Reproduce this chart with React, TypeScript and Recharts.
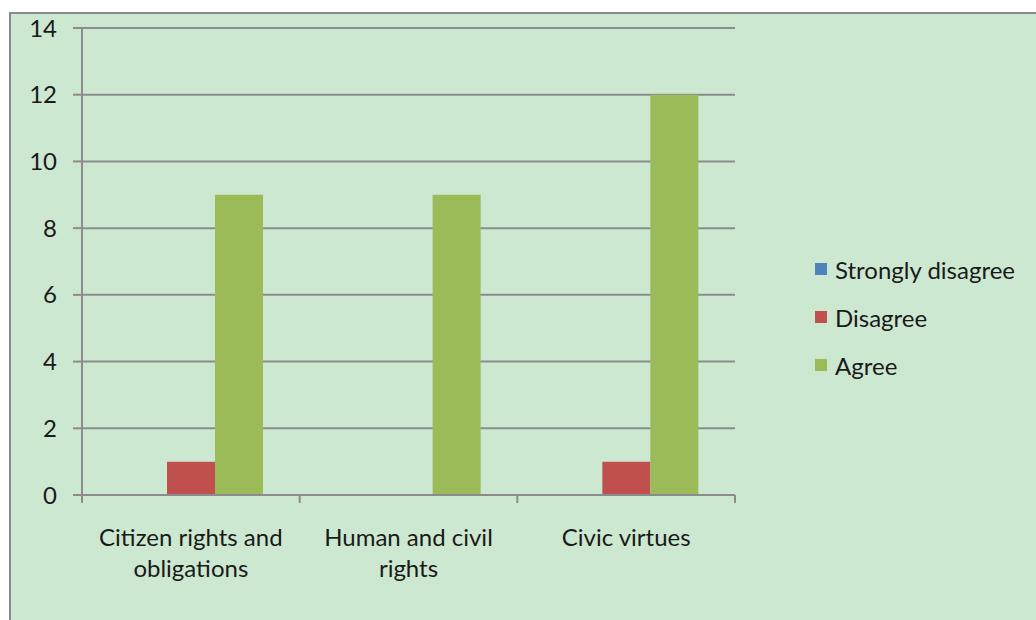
import { BarChart, Bar, XAxis, YAxis, CartesianGrid } from 'recharts'

const categories = [
  ['Citizen rights and', 'obligations'],
  ['Human and civil', 'rights'],
  ['Civic virtues'],
]
const stronglyDisagree = [0, 0, 0]
const disagree = [1, 0, 1]
const agree = [9, 9, 12]
const yTicks = [0, 2, 4, 6, 8, 10, 12, 14]

const SERIES = [
  { key: 'stronglyDisagree', name: 'Strongly disagree', color: '#4F81BD' },
  { key: 'disagree', name: 'Disagree', color: '#C0504D' },
  { key: 'agree', name: 'Agree', color: '#9BBB59' },
]

const FONT = 'Lato, "Open Sans", sans-serif'
const TEXT = '#1a1a1a'
const LINE = '#8c8c8c'

const data = categories.map((lines, i) => ({
  name: lines.join(' '),
  stronglyDisagree: stronglyDisagree[i],
  disagree: disagree[i],
  agree: agree[i],
}))

// category label (wrapped) plus tick marks on the band edges
function CategoryTick(props: any) {
  const { x, y, payload, index, visibleTicksCount } = props
  const half = payload.offset || 0
  const idx = data.findIndex((d) => d.name === payload.value)
  const lines = categories[idx] || [payload.value]
  const isLast = index === (visibleTicksCount ?? categories.length) - 1
  return (
    <g>
      <line x1={x - half} x2={x - half} y1={y} y2={y + 8} stroke={LINE} strokeWidth={2} />
      {isLast && (
        <line x1={x + half} x2={x + half} y1={y} y2={y + 8} stroke={LINE} strokeWidth={2} />
      )}
      <text x={x} y={y} textAnchor="middle" fill={TEXT} fontSize={24} fontFamily={FONT}>
        {lines.map((l: string, i: number) => (
          <tspan key={i} x={x} y={y + 51 + i * 31}>
            {l}
          </tspan>
        ))}
      </text>
    </g>
  )
}

export default function App() {
  return (
    <div
      style={{
        position: 'fixed',
        left: 9,
        top: 12,
        width: 1040,
        height: 620,
        background: '#CDE8D0',
        border: '2px solid #8a8a8a',
        fontFamily: FONT,
      }}
    >
      <BarChart
        width={1030}
        height={610}
        data={data}
        margin={{ top: 14, right: 306, bottom: 69, left: 11 }}
        barCategoryGap="17%"
        barGap={0}
      >
        <CartesianGrid vertical={false} stroke={LINE} strokeWidth={2} />
        <XAxis
          dataKey="name"
          height={60}
          tickSize={0}
          tickMargin={0}
          tickLine={false}
          axisLine={{ stroke: LINE, strokeWidth: 2 }}
          tick={<CategoryTick />}
          interval={0}
        />
        <YAxis
          width={60}
          domain={[0, 14]}
          ticks={yTicks}
          tickSize={9}
          tickMargin={16}
          tickLine={{ stroke: LINE, strokeWidth: 2 }}
          axisLine={{ stroke: LINE, strokeWidth: 2 }}
          tick={{ fill: TEXT, fontSize: 24, fontFamily: FONT }}
          interval={0}
        />
        {SERIES.map((s) => (
          <Bar key={s.key} dataKey={s.key} name={s.name} fill={s.color} isAnimationActive={false} />
        ))}
      </BarChart>
      <div style={{ position: 'absolute', left: 804, top: 231 }}>
        {SERIES.map((s) => (
          <div
            key={s.key}
            style={{ display: 'flex', alignItems: 'center', height: 48, fontSize: 24, color: TEXT, whiteSpace: 'nowrap' }}
          >
            <span style={{ width: 12, height: 12, background: s.color, marginRight: 8 }} />
            {s.name}
          </div>
        ))}
      </div>
    </div>
  )
}
